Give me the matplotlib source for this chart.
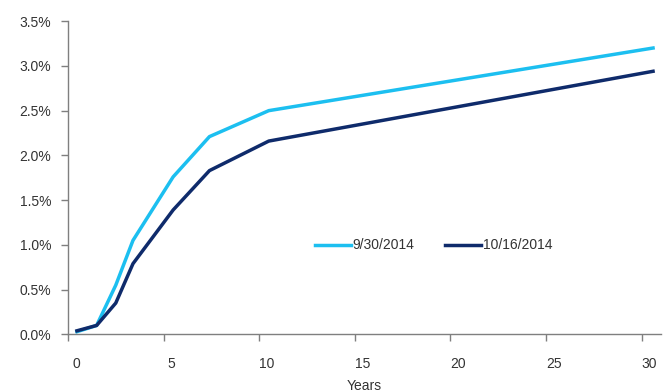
import matplotlib.pyplot as plt
import matplotlib.transforms as mtransforms
from matplotlib.ticker import FuncFormatter

plt.rcParams['font.family'] = ['Liberation Sans', 'DejaVu Sans']

# yield curve points (years, %)
years = [0.47, 1.5, 2.5, 3.4, 5.5, 7.4, 10.5, 30.6]
yield_0930 = [0.03, 0.10, 0.55, 1.05, 1.76, 2.21, 2.50, 3.20]
yield_1016 = [0.04, 0.10, 0.35, 0.79, 1.39, 1.83, 2.16, 2.94]
labels = ["9/30/2014", "10/16/2014"]
colors = ["#1cbff0", "#0f2b6b"]

fig = plt.figure(figsize=(6.69, 3.92), dpi=100)
ax = fig.add_axes([0.1016, 0.147, 0.886, 0.799])

ax.plot(years, yield_0930, color=colors[0], linewidth=2.5, label=labels[0])
ax.plot(years, yield_1016, color=colors[1], linewidth=2.5, label=labels[1])

ax.set_xlim(0, 31)
ax.set_ylim(0, 3.5)
ax.set_xticks(range(0, 31, 5))
ax.set_yticks([0, 0.5, 1.0, 1.5, 2.0, 2.5, 3.0, 3.5])
ax.yaxis.set_major_formatter(FuncFormatter(lambda v, p: f"{v:.1f}%"))

for side in ['top', 'right']:
    ax.spines[side].set_visible(False)
for side in ['left', 'bottom']:
    ax.spines[side].set_color('#7f7f7f')
    ax.spines[side].set_linewidth(1.0)

ax.tick_params(axis='both', colors='#7f7f7f', labelcolor='#333333',
               labelsize=10, length=5, width=1)
ax.tick_params(axis='x', pad=11)
ax.tick_params(axis='y', pad=7)

# x tick labels sit a little right of their ticks in the original
offset = mtransforms.ScaledTranslation(8 / 100, 0, fig.dpi_scale_trans)
for lbl in ax.get_xticklabels():
    lbl.set_transform(lbl.get_transform() + offset)

ax.set_xlabel("Years", fontsize=10, color='#333333', labelpad=6)

ax.legend(loc='center', bbox_to_anchor=(0.617, 0.284), ncol=2, frameon=False,
          fontsize=10, handlelength=2.6, handletextpad=0.15, columnspacing=2.2,
          labelcolor='#333333')

plt.savefig('out.png', dpi=100)
